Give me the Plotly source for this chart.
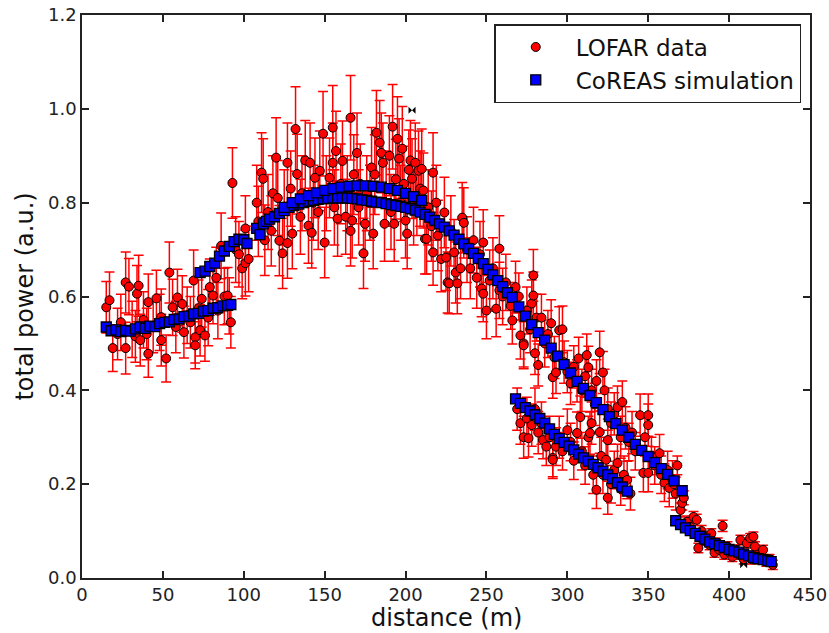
import plotly.graph_objects as go

# ---------------- LOFAR data (distance m, total power a.u., error) ----------------
# left group (x 14-103)
data_left_x = [15, 17, 19, 22, 24, 27, 29, 27, 31, 33, 34, 35, 36, 38, 40, 41, 41, 44, 46, 48,
               49, 49, 52, 54, 56, 58, 59, 62, 63, 65, 67, 69, 70, 70, 72, 73, 74, 76, 78, 79,
               81, 83, 84, 86, 88, 90, 91, 92, 93, 95, 97, 99, 101, 101, 103]
data_left_y = [0.577, 0.592, 0.49, 0.52, 0.545, 0.63, 0.621, 0.49, 0.53, 0.515, 0.606, 0.623, 0.507, 0.55, 0.52, 0.478, 0.588, 0.535, 0.596, 0.545,
               0.556, 0.507, 0.468, 0.651, 0.577, 0.535, 0.598, 0.584, 0.524, 0.56, 0.545, 0.634, 0.513, 0.496, 0.575, 0.528, 0.595, 0.517, 0.555, 0.62,
               0.602, 0.64, 0.57, 0.708, 0.6, 0.602, 0.58, 0.545, 0.842, 0.7, 0.69, 0.66, 0.671, 0.745, 0.68]
data_left_e = [0.055, 0.06, 0.05, 0.055, 0.06, 0.065, 0.06, 0.055, 0.06, 0.055, 0.06, 0.065, 0.055, 0.06, 0.055, 0.05, 0.06, 0.055, 0.06, 0.06,
               0.06, 0.055, 0.05, 0.065, 0.06, 0.055, 0.06, 0.06, 0.055, 0.06, 0.055, 0.065, 0.055, 0.05, 0.06, 0.055, 0.06, 0.055, 0.06, 0.06,
               0.06, 0.065, 0.06, 0.07, 0.06, 0.06, 0.06, 0.055, 0.075, 0.07, 0.07, 0.065, 0.07, 0.07, 0.07]

# main arch (x 108-262)
data_arch_x = [108, 109, 111, 112, 113, 115, 117, 118, 120, 121, 122, 124, 125, 127, 127, 129, 130, 132, 133, 135,
               136, 138, 140, 141, 142, 143, 144, 146, 147, 149, 150, 151, 153, 155, 155, 156, 157, 158, 160, 161,
               163, 164, 166, 166, 167, 168, 170, 171, 172, 174, 175, 176, 178, 179, 180, 181, 182, 184, 185, 186,
               187, 188, 190, 191, 192, 193, 194, 195, 196, 197, 198, 199, 200, 201, 202, 203, 204, 205, 206, 207,
               208, 209, 210, 211, 212, 213, 214, 216, 217, 217, 219, 220, 222, 224, 225, 226, 227, 228, 230, 231,
               232, 234, 235, 236, 238, 240, 242, 244, 246, 247, 248, 248, 250, 252, 254, 256, 258, 258, 260, 262]
data_arch_y = [0.8, 0.76, 0.864, 0.851, 0.72, 0.78, 0.74, 0.82, 0.896, 0.81, 0.719, 0.692, 0.79, 0.885, 0.714, 0.83, 0.734, 0.957, 0.861, 0.77,
               0.82, 0.89, 0.751, 0.885, 0.736, 0.8, 0.853, 0.78, 0.868, 0.947, 0.715, 0.82, 0.853, 0.96, 0.885, 0.79, 0.91, 0.766, 0.84, 0.889,
               0.77, 0.82, 0.981, 0.74, 0.762, 0.86, 0.906, 0.79, 0.84, 0.692, 0.755, 0.82, 0.8, 0.875, 0.734, 0.86, 0.949, 0.928, 0.906, 0.885,
               0.755, 0.83, 0.9, 0.78, 0.962, 0.755, 0.85, 0.936, 0.894, 0.8, 0.915, 0.84, 0.762, 0.734, 0.87, 0.89, 0.851, 0.79, 0.885, 0.81,
               0.868, 0.83, 0.872, 0.826, 0.723, 0.723, 0.79, 0.75, 0.864, 0.694, 0.8, 0.73, 0.68, 0.779, 0.683, 0.63, 0.628, 0.74, 0.694, 0.651,
               0.628, 0.66, 0.768, 0.757, 0.7, 0.66, 0.72, 0.64, 0.69, 0.617, 0.715, 0.606, 0.57, 0.634, 0.66, 0.574, 0.613, 0.702, 0.6, 0.63]
data_arch_e = [0.08, 0.075, 0.085, 0.085, 0.075, 0.08, 0.075, 0.08, 0.085, 0.08, 0.075, 0.075, 0.08, 0.085, 0.075, 0.08, 0.075, 0.09, 0.085, 0.08,
               0.08, 0.085, 0.08, 0.085, 0.075, 0.08, 0.085, 0.08, 0.085, 0.09, 0.075, 0.08, 0.085, 0.09, 0.085, 0.08, 0.085, 0.08, 0.085, 0.085,
               0.08, 0.08, 0.09, 0.075, 0.08, 0.085, 0.085, 0.08, 0.085, 0.075, 0.08, 0.08, 0.08, 0.085, 0.075, 0.085, 0.09, 0.09, 0.085, 0.085,
               0.08, 0.08, 0.085, 0.08, 0.09, 0.08, 0.085, 0.09, 0.085, 0.08, 0.09, 0.08, 0.08, 0.075, 0.085, 0.085, 0.085, 0.08, 0.085, 0.08,
               0.085, 0.08, 0.085, 0.08, 0.075, 0.075, 0.08, 0.075, 0.085, 0.07, 0.08, 0.075, 0.07, 0.075, 0.07, 0.065, 0.065, 0.075, 0.07, 0.065,
               0.065, 0.065, 0.075, 0.075, 0.07, 0.065, 0.07, 0.065, 0.07, 0.06, 0.07, 0.06, 0.06, 0.065, 0.065, 0.06, 0.06, 0.07, 0.06, 0.06]

# upper diagonal (x 265-367)
data_up_x = [265, 266, 268, 270, 271, 273, 273, 275, 277, 278, 279, 279, 280, 281, 282, 284, 286, 288, 290, 291,
             292, 293, 295, 297, 298, 300, 302, 304, 306, 307, 309, 311, 312, 313, 315, 317, 318, 320, 322, 323,
             325, 327, 329, 331, 333, 334, 336, 338, 340, 342, 345, 347, 348, 350, 350, 350, 352, 354, 357, 358,
             360, 362, 363, 365, 367]
data_up_y = [0.58, 0.549, 0.62, 0.6, 0.517, 0.5, 0.496, 0.57, 0.53, 0.585, 0.645, 0.602, 0.479, 0.555, 0.454, 0.555, 0.5, 0.52, 0.543, 0.428,
             0.47, 0.438, 0.528, 0.53, 0.46, 0.44, 0.415, 0.45, 0.42, 0.468, 0.4, 0.43, 0.475, 0.449, 0.4, 0.37, 0.42, 0.481, 0.438, 0.4,
             0.36, 0.33, 0.35, 0.364, 0.3, 0.375, 0.32, 0.29, 0.31, 0.27, 0.347, 0.224, 0.3, 0.347, 0.326, 0.224, 0.26, 0.24, 0.266, 0.22,
             0.203, 0.23, 0.192, 0.21, 0.18]
data_up_e = [0.05, 0.05, 0.055, 0.05, 0.05, 0.05, 0.05, 0.05, 0.05, 0.05, 0.055, 0.05, 0.045, 0.05, 0.045, 0.05, 0.05, 0.05, 0.05, 0.045,
             0.045, 0.045, 0.05, 0.05, 0.045, 0.045, 0.045, 0.045, 0.045, 0.045, 0.045, 0.045, 0.045, 0.045, 0.045, 0.045, 0.045, 0.045, 0.045, 0.045,
             0.045, 0.045, 0.045, 0.045, 0.045, 0.045, 0.045, 0.04, 0.045, 0.04, 0.045, 0.04, 0.04, 0.045, 0.045, 0.04, 0.04, 0.04, 0.04, 0.04,
             0.04, 0.04, 0.04, 0.04, 0.035]

# lower diagonal (x 269-339)
data_low_x = [269, 271, 273, 275, 276, 278, 280, 282, 284, 285, 287, 289, 291, 291, 293, 295, 297, 300, 302, 304,
              306, 308, 309, 311, 313, 314, 315, 316, 318, 320, 321, 322, 324, 325, 325, 327, 329, 331, 333, 335,
              337, 339]
data_low_y = [0.36, 0.33, 0.3, 0.34, 0.298, 0.326, 0.36, 0.31, 0.33, 0.294, 0.28, 0.3, 0.256, 0.252, 0.28, 0.3, 0.27, 0.315, 0.29, 0.25,
              0.309, 0.343, 0.27, 0.24, 0.3, 0.309, 0.33, 0.22, 0.188, 0.311, 0.26, 0.22, 0.252, 0.294, 0.171, 0.2, 0.23, 0.245, 0.19, 0.22,
              0.209, 0.18]
data_low_e = [0.045, 0.045, 0.045, 0.045, 0.04, 0.045, 0.045, 0.045, 0.045, 0.04, 0.04, 0.045, 0.04, 0.04, 0.04, 0.045, 0.04, 0.045, 0.04, 0.04,
              0.045, 0.045, 0.04, 0.04, 0.045, 0.045, 0.045, 0.04, 0.04, 0.045, 0.04, 0.04, 0.04, 0.045, 0.035, 0.04, 0.04, 0.04, 0.035, 0.04,
              0.04, 0.035]

# tail (x 366-427)
data_tail_x = [366, 368, 370, 371, 372, 374, 376, 378, 380, 381, 383, 384, 386, 388, 389, 391, 393, 394, 396, 397,
               399, 400, 402, 404, 406, 407, 409, 411, 413, 414, 415, 416, 418, 419, 421, 423, 425, 427]
data_tail_y = [0.2, 0.24, 0.145, 0.16, 0.171, 0.12, 0.109, 0.13, 0.124, 0.064, 0.1, 0.08, 0.088, 0.07, 0.095, 0.054, 0.075, 0.06, 0.111, 0.05,
               0.067, 0.055, 0.045, 0.06, 0.05, 0.081, 0.04, 0.074, 0.085, 0.04, 0.088, 0.067, 0.05, 0.045, 0.06, 0.035, 0.04, 0.028]
data_tail_e = [0.015, 0.02, 0.015, 0.015, 0.015, 0.012, 0.012, 0.012, 0.012, 0.01, 0.012, 0.01, 0.01, 0.01, 0.01, 0.01, 0.01, 0.01, 0.012, 0.01,
               0.01, 0.01, 0.01, 0.01, 0.01, 0.01, 0.01, 0.01, 0.01, 0.01, 0.01, 0.01, 0.01, 0.01, 0.01, 0.01, 0.01, 0.01]

# ---------------- CoREAS simulation ----------------
sim_a_x = [15, 18, 21, 24, 27, 30, 33, 36, 39, 42, 45, 48, 51, 54, 57, 60, 63, 66, 69, 72, 75, 78, 81, 84, 87, 90, 92]
sim_a_y = [0.535, 0.527, 0.529, 0.525, 0.528, 0.526, 0.531, 0.535, 0.532, 0.537, 0.536, 0.542, 0.545, 0.546, 0.551, 0.552, 0.557, 0.558, 0.563, 0.564, 0.569, 0.57, 0.575, 0.576, 0.58, 0.581, 0.583]
sim_b_x = [73, 76, 79, 82, 85, 88, 91, 94, 97, 100, 102]
sim_b_y = [0.651, 0.654, 0.664, 0.671, 0.686, 0.697, 0.707, 0.717, 0.722, 0.721, 0.713]
sim_c_x = [108, 110, 112, 114, 116, 119, 122, 125, 128, 131, 134, 137, 140, 143, 146, 149, 152, 155, 158, 161,
           164, 167, 170, 173, 176, 179, 182, 185, 188, 191, 194, 197, 200, 203, 206, 209, 212, 215, 218, 221,
           224, 227, 230, 233, 236, 239, 242, 245, 248, 251, 254, 257, 260, 263]
sim_c_y = [0.745, 0.732, 0.755, 0.76, 0.765, 0.77, 0.777, 0.783, 0.79, 0.794, 0.797, 0.8, 0.803, 0.805, 0.807, 0.808, 0.809, 0.81, 0.81, 0.81,
           0.81, 0.809, 0.808, 0.806, 0.805, 0.803, 0.801, 0.8, 0.798, 0.796, 0.794, 0.792, 0.79, 0.787, 0.784, 0.78, 0.775, 0.769, 0.762, 0.755,
           0.748, 0.74, 0.731, 0.722, 0.712, 0.702, 0.692, 0.681, 0.67, 0.658, 0.646, 0.634, 0.621, 0.608]
sim_d_x = [125, 130, 135, 140, 145, 150, 155, 160, 165, 170, 175, 180, 185, 190, 195, 200, 205, 210]
sim_d_y = [0.79, 0.8, 0.808, 0.815, 0.821, 0.826, 0.83, 0.833, 0.835, 0.836, 0.836, 0.835, 0.833, 0.83, 0.826, 0.82, 0.813, 0.805]
sim_e_x = [266, 270, 274, 278, 282, 286, 290, 294, 298, 302, 306, 310, 314, 318, 322, 326, 330, 334, 338, 342, 346, 350, 354, 358, 362, 366, 371]
sim_e_y = [0.598, 0.578, 0.558, 0.54, 0.523, 0.507, 0.49, 0.473, 0.455, 0.437, 0.419, 0.404, 0.389, 0.374, 0.359, 0.344, 0.329, 0.315, 0.3, 0.285, 0.272, 0.259, 0.246, 0.233, 0.221, 0.207, 0.186]
sim_f_x = [268, 271, 274, 277, 280, 283, 286, 289, 292, 295, 298, 301, 304, 307, 310, 313, 316, 319, 322, 325, 328, 331, 334, 337]
sim_f_y = [0.382, 0.372, 0.363, 0.356, 0.348, 0.34, 0.33, 0.318, 0.306, 0.297, 0.289, 0.281, 0.273, 0.264, 0.256, 0.249, 0.242, 0.235, 0.228, 0.22, 0.212, 0.203, 0.194, 0.185]
sim_g_x = [367, 370, 373, 376, 379, 382, 385, 388, 391, 394, 397, 400, 403, 406, 409, 412, 415, 418, 421, 424, 426]
sim_g_y = [0.122, 0.114, 0.107, 0.101, 0.095, 0.089, 0.083, 0.077, 0.073, 0.069, 0.065, 0.061, 0.058, 0.055, 0.051, 0.047, 0.044, 0.041, 0.039, 0.037, 0.035]

# flagged points (black)
flag_x = [204, 409]
flag_y = [0.997, 0.028]

x_ticks = [0, 50, 100, 150, 200, 250, 300, 350, 400, 450]
y_ticks = [0.0, 0.2, 0.4, 0.6, 0.8, 1.0, 1.2]
y_tick_text = ["0.0", "0.2", "0.4", "0.6", "0.8", "1.0", "1.2"]

data_x = data_left_x + data_arch_x + data_up_x + data_low_x + data_tail_x
data_y = data_left_y + data_arch_y + data_up_y + data_low_y + data_tail_y
data_e = data_left_e + data_arch_e + data_up_e + data_low_e + data_tail_e
sim_x = sim_a_x + sim_b_x + sim_c_x + sim_d_x + sim_e_x + sim_f_x + sim_g_x
sim_y = sim_a_y + sim_b_y + sim_c_y + sim_d_y + sim_e_y + sim_f_y + sim_g_y

FONT = "DejaVu Sans"
fig = go.Figure()
fig.add_trace(go.Scatter(
    x=data_x, y=data_y, mode="markers", name="LOFAR data", legendgroup="a",
    marker=dict(symbol="circle", size=9, color="#ff0000", line=dict(color="#000000", width=1)),
    error_y=dict(type="data", array=data_e, visible=True, color="#ff0000", thickness=1.5, width=5),
))
fig.add_trace(go.Scatter(
    x=flag_x, y=flag_y, mode="markers", showlegend=False,
    marker=dict(symbol="bowtie", size=7, color="#000000"),
))
fig.add_trace(go.Scatter(
    x=sim_x, y=sim_y, mode="markers", name="CoREAS simulation", legendgroup="b",
    marker=dict(symbol="square", size=10, color="#0000ff", line=dict(color="#000000", width=1.3)),
))

axis_common = dict(
    showgrid=False, zeroline=False, showline=True, linecolor="#222222", linewidth=1.5,
    mirror="ticks", ticks="inside", ticklen=7, tickwidth=1.5, tickcolor="#222222",
    tickfont=dict(family=FONT, size=18, color="#222222"), ticklabeloverflow="allow",
)
fig.update_xaxes(range=[0, 450.001], tickvals=x_ticks, **axis_common)
fig.update_yaxes(range=[0, 1.20001], tickvals=y_ticks, ticktext=y_tick_text, **axis_common,
                 title=dict(text="total power (a.u.)", font=dict(family=FONT, size=24, color="#111111"), standoff=8))

fig.add_annotation(
    text="distance (m)", xref="paper", yref="paper", x=0.5, y=-0.071,
    xanchor="center", yanchor="middle", showarrow=False,
    font=dict(family=FONT, size=24, color="#111111"),
)

fig.update_layout(
    width=829, height=633,
    margin=dict(l=82, r=19, t=15, b=55, autoexpand=False),
    plot_bgcolor="white", paper_bgcolor="white",
    font=dict(family=FONT, color="#111111"),
    legend=dict(
        x=0.988, y=0.984, xanchor="right", yanchor="top",
        bgcolor="white", bordercolor="#222222", borderwidth=1.5,
        font=dict(family=FONT, size=23, color="#111111"),
        traceorder="grouped", tracegroupgap=0, itemwidth=70,
    ),
)

fig.write_html("out.html", config={"displayModeBar": False},
               post_script="document.body.style.margin='0';document.body.style.padding='0';")
